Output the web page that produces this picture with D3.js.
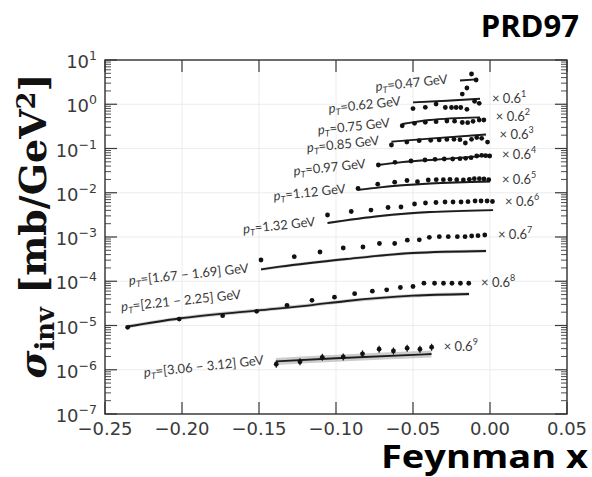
<!DOCTYPE html>
<html>
<head>
<meta charset="utf-8">
<script src="https://cdn.jsdelivr.net/npm/d3@7"></script>
<style>
  body { margin: 0; background: #fff; }
</style>
</head>
<body>
<div id="chart"></div>
<script>
// pT bins, top curve to bottom curve, and the power of 0.6 each one is scaled by
const ptBins = ['0.47', '0.62', '0.75', '0.85', '0.97', '1.12', '1.32', '[1.67 − 1.69]', '[2.21 − 2.25]', '[3.06 − 3.12]'];
const scalePower = [0, 1, 2, 3, 4, 5, 6, 7, 8, 9];

const xTicks = [-0.25, -0.20, -0.15, -0.10, -0.05, 0.00, 0.05];
const yDecades = [-7, -6, -5, -4, -3, -2, -1, 0, 1];

// measured points (Feynman x, scaled sigma_inv in mb/GeV^2)
const pointX = [
  [-0.018, -0.015, -0.012, -0.009],
  [-0.050, -0.042, -0.035, -0.029, -0.025, -0.022, -0.019, -0.015, -0.010, -0.007],
  [-0.057, -0.049, -0.042, -0.035, -0.028, -0.023, -0.018, -0.0145, -0.011, -0.007, -0.004],
  [-0.064, -0.054, -0.046, -0.0385, -0.033, -0.028, -0.0234, -0.0195, -0.016, -0.012, -0.0086, -0.0054, -0.0016],
  [-0.0725, -0.0617, -0.0513, -0.0422, -0.0357, -0.0297, -0.0242, -0.0195, -0.0158, -0.0123, -0.0086, -0.0054, -0.0028, -0.0002],
  [-0.0857, -0.0729, -0.0619, -0.0539, -0.0471, -0.0401, -0.0349, -0.0303, -0.026, -0.0216, -0.0173, -0.0134, -0.0102, -0.0069, -0.0039, -0.0008],
  [-0.1055, -0.0901, -0.0773, -0.0662, -0.0578, -0.049, -0.0419, -0.0351, -0.0292, -0.024, -0.0188, -0.0143, -0.0097, -0.0058, -0.0019, 0.0016],
  [-0.1487, -0.1271, -0.1104, -0.0953, -0.0825, -0.0718, -0.0619, -0.0537, -0.0459, -0.0394, -0.0329, -0.0271, -0.0212, -0.0162, -0.0119, -0.0078, -0.0034],
  [-0.2353, -0.2018, -0.1736, -0.1515, -0.1318, -0.1156, -0.101, -0.0879, -0.0764, -0.0671, -0.0582, -0.05, -0.0429, -0.036, -0.0302, -0.0247, -0.0192, -0.0138],
  [-0.1388, -0.1234, -0.1089, -0.0953, -0.0828, -0.072, -0.0627, -0.0538, -0.0455, -0.0379]
];
const pointY = [
  [1.70, 2.33, 4.83, 3.53],
  [0.80, 0.853, 1.01, 0.845, 0.845, 0.845, 0.845, 0.769, 1.17, 1.05],
  [0.327, 0.371, 0.391, 0.404, 0.418, 0.414, 0.387, 0.383, 0.412, 0.441, 0.441],
  [0.120, 0.140, 0.150, 0.153, 0.156, 0.160, 0.161, 0.158, 0.133, 0.161, 0.177, 0.170, 0.140],
  [0.0424, 0.0488, 0.0522, 0.0550, 0.0570, 0.0579, 0.0579, 0.0588, 0.0601, 0.0620, 0.0677, 0.0702, 0.0688, 0.0677],
  [0.01247, 0.0156, 0.0173, 0.0189, 0.0178, 0.0194, 0.0197, 0.0197, 0.0201, 0.0197, 0.0194, 0.0201, 0.0208, 0.0208, 0.0205, 0.0197],
  [0.00314, 0.00377, 0.00407, 0.00464, 0.00476, 0.00557, 0.00586, 0.00602, 0.00618, 0.00618, 0.00618, 0.00628, 0.00651, 0.00651, 0.00651, 0.00634],
  [3.02e-4, 3.59e-4, 4.58e-4, 5.64e-4, 5.94e-4, 7.13e-4, 7.13e-4, 8.47e-4, 8.65e-4, 9.84e-4, 1.016e-3, 1.016e-3, 1.016e-3, 1.016e-3, 1.054e-3, 1.07e-3, 1.11e-3],
  [9.1e-6, 1.40e-5, 1.67e-5, 2.09e-5, 2.86e-5, 3.71e-5, 4.36e-5, 5.24e-5, 5.96e-5, 6.41e-5, 7.23e-5, 7.61e-5, 9.03e-5, 9.0e-5, 9.0e-5, 9.0e-5, 9.0e-5, 9.0e-5],
  [1.33e-6, 1.51e-6, 1.91e-6, 1.94e-6, 2.29e-6, 2.92e-6, 2.65e-6, 3.07e-6, 2.92e-6, 3.23e-6]
];
// relative error on every point of a bin, and on the last point only
const pointErr = [0, 0, 0, 0, 0, 0, 0, 0, 0, 0.2];
const lastPointErr = [0, 0, 0, 0, 0, 0, 0, 0.08, 0.08, 0.2];

// model curves and relative width of their uncertainty band
const theoryX = [
  [-0.0195, -0.0086],
  [-0.050, -0.028, -0.0065],
  [-0.057, -0.039, -0.0065],
  [-0.064, -0.039, -0.0026],
  [-0.0727, -0.0584, -0.026, 0.0],
  [-0.0857, -0.0714, -0.039, 0.0],
  [-0.1055, -0.0714, -0.039, 0.002],
  [-0.1487, -0.1364, -0.093, -0.05, -0.0026],
  [-0.2353, -0.202, -0.1515, -0.1156, -0.093, -0.05, -0.0136],
  [-0.139, -0.1, -0.038]
];
const theoryY = [
  [3.44, 3.66],
  [1.10, 1.20, 1.33],
  [0.358, 0.441, 0.507],
  [0.142, 0.168, 0.207],
  [0.0424, 0.0488, 0.0588, 0.0702],
  [0.01155, 0.01328, 0.0162, 0.01795],
  [0.00207, 0.00298, 0.00367, 0.00407],
  [1.845e-4, 2.13e-4, 3.18e-4, 4.35e-4, 4.83e-4],
  [9.49e-6, 1.44e-5, 2.18e-5, 2.90e-5, 3.58e-5, 4.71e-5, 5.15e-5],
  [1.54e-6, 1.82e-6, 2.27e-6]
];
const theoryUnc = [0.04, 0.04, 0.04, 0.04, 0.05, 0.05, 0.06, 0.08, 0.1, 0.2];

class XFPlot {
  constructor() {
    this.divId = 'chart';
    this.pointSize = 2.4;
    this.visConfig = {
      width: 592,
      height: 477,
      padding: { left: 105, top: 60, right: 25, bottom: 63 }
    };
  }

  init() {
    const cfg = this.visConfig;
    const left = cfg.padding.left, right = cfg.width - cfg.padding.right;
    const top = cfg.padding.top, bottom = cfg.height - cfg.padding.bottom;

    let xscale = d3.scaleLinear()
      .domain([xTicks[0], xTicks[xTicks.length - 1]])
      .range([left, right]);
    let yscale = d3.scaleLog()
      .domain([Math.pow(10, yDecades[0]), Math.pow(10, yDecades[yDecades.length - 1])])
      .range([bottom, top]);

    let svg = d3.select(`#${this.divId}`)
      .append('svg')
      .attr('width', cfg.width)
      .attr('height', cfg.height)
      .style('font-family', 'DejaVu Sans, sans-serif');

    // faint grid
    let grid = svg.append('g').attr('stroke', '#ececec').attr('stroke-width', 1);
    grid.selectAll('.vx').data(xTicks).enter().append('line')
      .attr('x1', d => xscale(d)).attr('x2', d => xscale(d))
      .attr('y1', top).attr('y2', bottom);
    grid.selectAll('.hy').data(yDecades).enter().append('line')
      .attr('x1', left).attr('x2', right)
      .attr('y1', d => yscale(Math.pow(10, d))).attr('y2', d => yscale(Math.pow(10, d)));

    // ticks, all pointing inward
    const tickColor = '#3a3a3a';
    let ticks = svg.append('g').attr('stroke', tickColor).attr('stroke-width', 1.2);
    xTicks.forEach(t => {
      ticks.append('line').attr('x1', xscale(t)).attr('x2', xscale(t)).attr('y1', bottom).attr('y2', bottom - 12);
      ticks.append('line').attr('x1', xscale(t)).attr('x2', xscale(t)).attr('y1', top).attr('y2', top + 12);
    });
    yDecades.forEach(dec => {
      let yy = yscale(Math.pow(10, dec));
      ticks.append('line').attr('x1', left).attr('x2', left + 12).attr('y1', yy).attr('y2', yy);
      ticks.append('line').attr('x1', right).attr('x2', right - 12).attr('y1', yy).attr('y2', yy);
      if (dec == yDecades[yDecades.length - 1]) return;
      for (let m = 2; m < 10; m++) {
        let ym = yscale(m * Math.pow(10, dec));
        ticks.append('line').attr('x1', left).attr('x2', left + 6).attr('y1', ym).attr('y2', ym).attr('stroke-width', 0.9);
        ticks.append('line').attr('x1', right).attr('x2', right - 6).attr('y1', ym).attr('y2', ym).attr('stroke-width', 0.9);
      }
    });

    svg.append('rect')
      .attr('x', left).attr('y', top)
      .attr('width', right - left).attr('height', bottom - top)
      .attr('fill', 'none').attr('stroke', '#333').attr('stroke-width', 1.4);

    // tick labels
    svg.selectAll('.xlab').data(xTicks).enter().append('text')
      .attr('x', d => xscale(d))
      .attr('y', bottom + 21)
      .attr('text-anchor', 'middle')
      .attr('font-size', 18)
      .attr('fill', tickColor)
      .text(d => d3.format('.2f')(d).replace('-', '−'));

    let ylab = svg.selectAll('.ylab').data(yDecades).enter().append('text')
      .attr('x', left - 8)
      .attr('y', d => yscale(Math.pow(10, d)) + 8)
      .attr('text-anchor', 'end')
      .attr('font-size', 18)
      .attr('fill', tickColor);
    ylab.append('tspan').text('10');
    ylab.append('tspan')
      .attr('font-size', 12.5)
      .attr('dy', -8)
      .text(d => String(d).replace('-', '−'));

    // model bands and curves
    let series = ptBins.map((pt, i) => ({
      pt: pt,
      power: scalePower[i],
      points: pointX[i].map((x, j) => ({ x: x, y: pointY[i][j] })),
      theory: theoryX[i].map((x, j) => ({ x: x, y: theoryY[i][j] })),
      unc: theoryUnc[i],
      err: pointErr[i],
      lastErr: lastPointErr[i]
    }));

    let band = d3.area()
      .x(d => xscale(d.x))
      .curve(d3.curveMonotoneX);
    let line = d3.line()
      .x(d => xscale(d.x))
      .y(d => yscale(d.y))
      .curve(d3.curveMonotoneX);

    let groups = svg.selectAll('.bin')
      .data(series)
      .enter()
      .append('g')
      .attr('class', (d, i) => `bin group${i}`);

    groups.append('path')
      .attr('d', s => band
        .y0(d => yscale(d.y / (1 + s.unc)))
        .y1(d => yscale(d.y * (1 + s.unc)))(s.theory))
      .attr('fill', '#9a9a9a')
      .attr('opacity', 0.5);

    groups.append('path')
      .attr('d', s => line(s.theory))
      .attr('fill', 'none')
      .attr('stroke', '#1c1c1c')
      .attr('stroke-width', 1.8);

    // error bars
    groups.each(function (s) {
      let g = d3.select(this);
      s.points.forEach((p, j) => {
        let e = (j == s.points.length - 1) ? Math.max(s.err, s.lastErr) : s.err;
        if (!e) return;
        g.append('line')
          .attr('x1', xscale(p.x)).attr('x2', xscale(p.x))
          .attr('y1', yscale(p.y / (1 + e))).attr('y2', yscale(p.y * (1 + e)))
          .attr('stroke', '#111').attr('stroke-width', 1.2);
      });
    });

    groups.selectAll('circle')
      .data(s => s.points)
      .enter()
      .append('circle')
      .attr('cx', d => xscale(d.x))
      .attr('cy', d => yscale(d.y))
      .attr('r', this.pointSize)
      .attr('fill', '#111');

    // pT labels, tilted a little, left of each curve
    const labelColor = '#3a3a3a';
    groups.each(function (s, i) {
      let first = s.theory[0];
      let ax, ay, anchor;
      if (i == 8) {
        // this one sits above its curve, starting at the left edge
        ax = xscale(s.points[0].x) - 6;
        ay = yscale(s.points[0].y) - 16;
        anchor = 'start';
      } else {
        ax = xscale(first.x) - 12;
        ay = yscale(first.y) + 3;
        anchor = 'end';
      }
      let t = d3.select(this).append('text')
        .attr('x', ax)
        .attr('y', ay)
        .attr('text-anchor', anchor)
        .attr('font-family', 'Lato, Open Sans, sans-serif')
        .attr('font-size', 13)
        .attr('fill', labelColor)
        .attr('transform', `rotate(-6, ${ax}, ${ay})`);
      t.append('tspan').attr('font-style', 'italic').text('p');
      t.append('tspan').attr('font-style', 'italic').attr('font-size', 9).attr('dy', 3).text('T');
      t.append('tspan').attr('dy', -3).text(`=${s.pt} GeV`);

      if (s.power > 0) {
        let lastP = s.points[s.points.length - 1];
        let lastT = s.theory[s.theory.length - 1];
        let mx = Math.max(xscale(lastP.x), xscale(lastT.x)) + 12;
        let my = Math.min(yscale(lastP.y), yscale(lastT.y)) + 4;
        let m = d3.select(this).append('text')
          .attr('x', mx)
          .attr('y', my)
          .attr('font-family', 'Lato, Open Sans, sans-serif')
          .attr('font-size', 13)
          .attr('fill', labelColor);
        m.append('tspan').text('× 0.6');
        m.append('tspan').attr('font-size', 9).attr('dy', -6).text(s.power);
      }
    });

    // axis titles
    let ytitleX = 46, ytitleY = 226;
    let ytitle = svg.append('text')
      .attr('x', ytitleX)
      .attr('y', ytitleY)
      .attr('text-anchor', 'middle')
      .attr('transform', `rotate(-90, ${ytitleX}, ${ytitleY})`)
      .attr('font-family', 'DejaVu Serif, serif')
      .attr('font-weight', 'bold')
      .attr('font-size', 37)
      .attr('fill', '#111');
    ytitle.append('tspan').attr('font-style', 'italic').text('σ');
    ytitle.append('tspan').attr('font-size', '0.68em').attr('dy', '0.3em').text('inv');
    ytitle.append('tspan').attr('dy', '-0.2em').text(' [mb/GeV');
    ytitle.append('tspan').attr('font-size', '0.68em').attr('dy', '-0.45em').text('2');
    ytitle.append('tspan').attr('dy', '0.3em').text(']');
    // fit the rotated title to the height it takes in the figure
    let len = ytitle.node().getComputedTextLength();
    ytitle.attr('font-size', 37 * 305 / len);

    svg.append('text')
      .attr('x', 588)
      .attr('y', 468)
      .attr('text-anchor', 'end')
      .attr('font-family', 'Open Sans, sans-serif')
      .attr('font-weight', 'bold')
      .attr('font-size', 33)
      .attr('textLength', 207)
      .attr('lengthAdjust', 'spacingAndGlyphs')
      .attr('fill', '#000')
      .text('Feynman x');

    svg.append('text')
      .attr('x', 579)
      .attr('y', 37)
      .attr('text-anchor', 'end')
      .attr('font-family', 'Open Sans, sans-serif')
      .attr('font-weight', 'bold')
      .attr('font-size', 31)
      .attr('fill', '#000')
      .text('PRD97');
  }
}

new XFPlot().init();
</script>
</body>
</html>
